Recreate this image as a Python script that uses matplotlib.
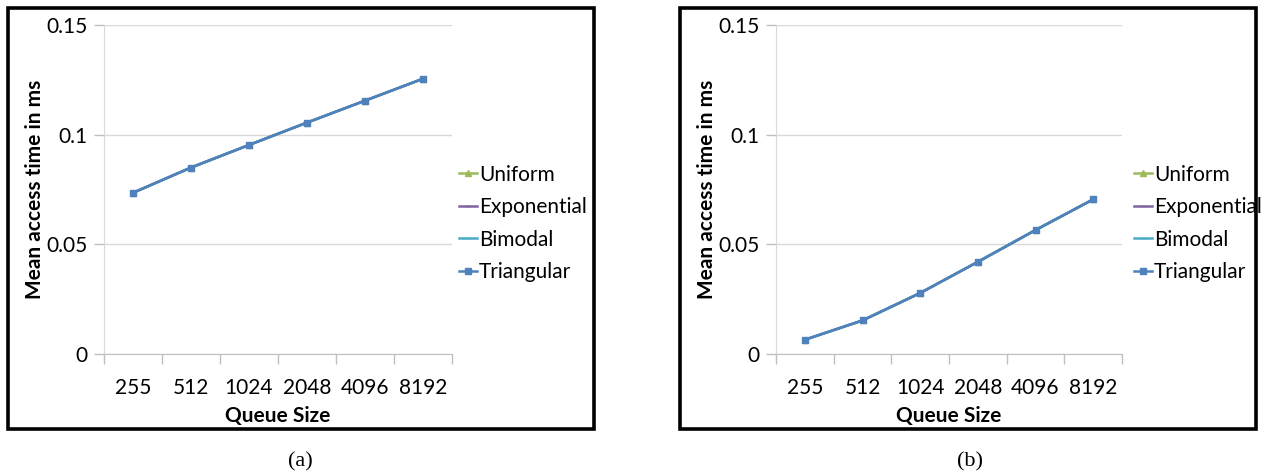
import matplotlib
matplotlib.use('Agg')
import matplotlib.pyplot as plt
from matplotlib.patches import Rectangle
import numpy as np

plt.rcParams['font.family'] = ['Lato', 'DejaVu Sans']

queue_sizes = ['255', '512', '1024', '2048', '4096', '8192']
series_names = ['Uniform', 'Exponential', 'Bimodal', 'Triangular']
series_colors = ['#9BBB59', '#8064A2', '#4BACC6', '#4F81BD']
series_markers = ['^', '_', '_', 's']

# panel (a): all four distributions overlap
time_a = [0.0735, 0.0850, 0.0953, 0.1055, 0.1155, 0.1255]
# panel (b)
time_b = [0.0065, 0.0153, 0.0278, 0.0420, 0.0565, 0.0705]

yticks = [0, 0.05, 0.1, 0.15]
ytick_labels = ['0', '0.05', '0.1', '0.15']

W, H = 1262, 475
fig = plt.figure(figsize=(W / 100, H / 100), dpi=100)


def px(x0, y0, x1, y1):
    # pixel box (top-left origin) -> figure fraction
    return [x0 / W, 1 - y1 / H, (x1 - x0) / W, (y1 - y0) / H]


def panel(ax_rect, box, values, caption, cap_x, leg_x):
    fig.patches.append(Rectangle((box[0] / W, 1 - box[3] / H),
                                 (box[2] - box[0]) / W, (box[3] - box[1]) / H,
                                 transform=fig.transFigure, fill=False,
                                 edgecolor='black', linewidth=2.6, zorder=0))
    ax = fig.add_axes(px(*ax_rect))
    x = np.arange(len(queue_sizes))
    lines = []
    for name, col, mk in zip(series_names, series_colors, series_markers):
        ln, = ax.plot(x, values, color=col, marker=mk, markersize=4,
                      linewidth=1.8, label=name)
        lines.append(ln)
    ax.set_xlim(-0.5, len(queue_sizes) - 0.5)
    ax.set_ylim(0, 0.15)
    ax.set_yticks(yticks)
    ax.set_yticklabels(ytick_labels, fontsize=15)
    ax.set_xticks(x)
    ax.set_xticklabels(queue_sizes, fontsize=15)
    ax.tick_params(axis='x', length=0, pad=17)
    ax.tick_params(axis='y', length=7, color='#BFBFBF', pad=5, width=1)
    ax.set_xticks(np.arange(-0.5, len(queue_sizes)), minor=True)
    ax.tick_params(axis='x', which='minor', length=7, color='#BFBFBF', width=1)
    ax.grid(axis='y', color='#D9D9D9', linewidth=1)
    ax.set_axisbelow(True)
    for s in ['top', 'right']:
        ax.spines[s].set_visible(False)
    ax.spines['left'].set_color('#D9D9D9')
    ax.spines['bottom'].set_color('#BFBFBF')
    ax.set_xlabel('Queue Size', fontsize=15, fontweight='bold', labelpad=6)
    ax.set_ylabel('Mean access time in ms', fontsize=15, fontweight='bold',
                  labelpad=1)
    ax.legend(handles=lines, loc='center left',
              bbox_to_anchor=((leg_x - ax_rect[0]) / (ax_rect[2] - ax_rect[0]), 0.397),
              frameon=False, fontsize=15, handlelength=0.85, handletextpad=0.1,
              labelspacing=0.6, borderaxespad=0)
    fig.text(cap_x / W, 1 - 462 / H, caption, ha='center', va='center',
             fontsize=16, family='Liberation Serif')
    for i, ln in enumerate(lines):
        ln.set_zorder(2 + i)


panel((104, 25, 452, 354), (8, 8, 594, 429), time_a, '(a)', 300, 451)
panel((776, 25, 1122, 354), (680, 8, 1256, 429), time_b, '(b)', 970, 1126)

fig.savefig('out.png', dpi=100, facecolor='white')
